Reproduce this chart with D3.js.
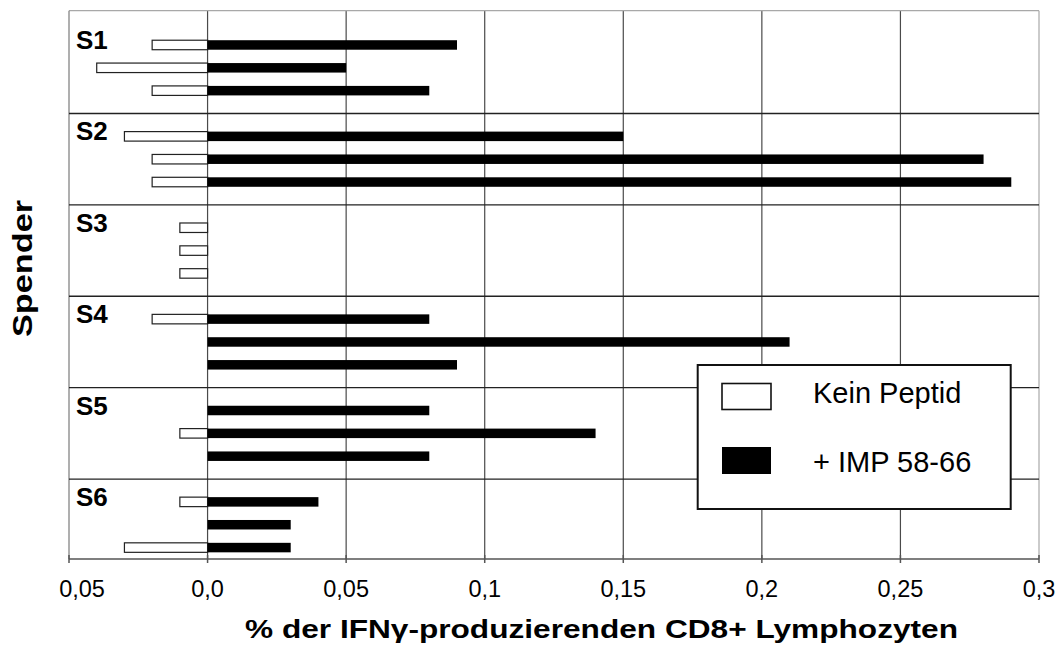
<!DOCTYPE html>
<html>
<head>
<meta charset="utf-8">
<script src="https://cdn.jsdelivr.net/npm/d3@7"></script>
<style>
  html, body { margin: 0; padding: 0; background: #fff; }
  svg { display: block; }
  text { font-family: "Liberation Sans", Arial, sans-serif; fill: #000; }
</style>
</head>
<body>
<svg id="chart" width="1061" height="653"></svg>
<script>
// ---- data ----
const donors = ["S1", "S2", "S3", "S4", "S5", "S6"];
const seriesNames = ["Kein Peptid", "+ IMP 58-66"];
// three measurements per donor; "Kein Peptid" is drawn to the left of zero
const keinPeptid = [
  [0.02, 0.04, 0.02],
  [0.03, 0.02, 0.02],
  [0.01, 0.01, 0.01],
  [0.02, 0.00, 0.00],
  [0.00, 0.01, 0.00],
  [0.01, 0.00, 0.03]
];
const imp5866 = [
  [0.09, 0.05, 0.08],
  [0.15, 0.28, 0.29],
  [0.00, 0.00, 0.00],
  [0.08, 0.21, 0.09],
  [0.08, 0.14, 0.08],
  [0.04, 0.03, 0.03]
];
const xTicks = [-0.05, 0, 0.05, 0.1, 0.15, 0.2, 0.25, 0.3];
const xTickLabels = ["0,05", "0,0", "0,05", "0,1", "0,15", "0,2", "0,25", "0,3"];
const xTitle = "% der IFNγ-produzierenden CD8+ Lymphozyten";
const yTitle = "Spender";

// ---- layout ----
const svg = d3.select("#chart");
const L = 69, R = 1039, T = 10.7, B = 559;
const x = d3.scaleLinear().domain([-0.05, 0.3]).range([L, R]);
const slotsPerGroup = 4; // one empty slot + three bars
const y = d3.scaleLinear().domain([0, donors.length * slotsPerGroup]).range([T, B]);
const barH = 9.5;

// plot background
svg.append("rect").attr("x", L).attr("y", T).attr("width", R - L).attr("height", B - T).attr("fill", "#fff");

// vertical gridlines
svg.append("g").selectAll("line").data(xTicks.filter(d => d > -0.05 && d < 0.3)).join("line")
  .attr("x1", d => x(d)).attr("x2", d => x(d)).attr("y1", T).attr("y2", B)
  .attr("stroke", "#4a4a4a").attr("stroke-width", 1.2);

// borders
svg.append("line").attr("x1", L).attr("x2", R).attr("y1", T).attr("y2", T).attr("stroke", "#a8a8a8").attr("stroke-width", 1.2);
svg.append("line").attr("x1", R).attr("x2", R).attr("y1", T).attr("y2", B).attr("stroke", "#a8a8a8").attr("stroke-width", 1.2);
svg.append("line").attr("x1", L).attr("x2", L).attr("y1", T).attr("y2", B).attr("stroke", "#7a7a7a").attr("stroke-width", 1.2);

// group separators (middle of the empty slot between groups)
const seps = d3.range(1, donors.length).map(g => g * slotsPerGroup + 0.5);
svg.append("g").selectAll("line").data(seps).join("line")
  .attr("x1", L).attr("x2", R).attr("y1", d => y(d)).attr("y2", d => y(d))
  .attr("stroke", "#222").attr("stroke-width", 1.3);

// bars
const rows = [];
donors.forEach((dn, g) => {
  for (let k = 0; k < 3; k++) {
    rows.push({ donor: dn, slot: g * slotsPerGroup + 1 + k, kein: keinPeptid[g][k], imp: imp5866[g][k] });
  }
});
const barG = svg.append("g");
barG.selectAll("rect.kein").data(rows.filter(r => r.kein > 0)).join("rect")
  .attr("class", "kein")
  .attr("x", d => x(-d.kein)).attr("width", d => x(0) - x(-d.kein))
  .attr("y", d => y(d.slot + 0.5) - barH / 2).attr("height", barH)
  .attr("fill", "#fff").attr("stroke", "#222").attr("stroke-width", 1.2);
barG.selectAll("rect.imp").data(rows.filter(r => r.imp > 0)).join("rect")
  .attr("class", "imp")
  .attr("x", x(0)).attr("width", d => x(d.imp) - x(0))
  .attr("y", d => y(d.slot + 0.5) - barH / 2).attr("height", barH)
  .attr("fill", "#000");

// donor labels
svg.append("g").selectAll("text").data(donors).join("text")
  .attr("x", 76).attr("y", (d, i) => y(i * slotsPerGroup + 1.5) + 4)
  .attr("font-size", 26).attr("font-weight", "bold").text(d => d);

// x axis
const axis = svg.append("g");
axis.append("line").attr("x1", L).attr("x2", R).attr("y1", B).attr("y2", B).attr("stroke", "#555").attr("stroke-width", 1.5);
axis.selectAll("line.tick").data(xTicks).join("line").attr("class", "tick")
  .attr("x1", d => x(d)).attr("x2", d => x(d)).attr("y1", B - 4).attr("y2", B + 4)
  .attr("stroke", "#555").attr("stroke-width", 1.5);
axis.selectAll("text").data(xTicks).join("text")
  .attr("x", (d, i) => x(d) + (i === 0 ? 13 : 0)).attr("y", 597)
  .attr("text-anchor", "middle").attr("font-size", 23.5)
  .text((d, i) => xTickLabels[i]);

// axis titles
svg.append("text").attr("x", 245).attr("y", 638)
  .attr("font-size", 26).attr("font-weight", "bold")
  .attr("textLength", 713).attr("lengthAdjust", "spacingAndGlyphs")
  .text(xTitle);
svg.append("text").attr("transform", "translate(32,337) rotate(-90)")
  .attr("font-size", 27).attr("font-weight", "bold")
  .attr("textLength", 137).attr("lengthAdjust", "spacingAndGlyphs")
  .text(yTitle);

// legend
const lg = svg.append("g");
lg.append("rect").attr("x", 697.7).attr("y", 365).attr("width", 313).attr("height", 144)
  .attr("fill", "#fff").attr("stroke", "#111").attr("stroke-width", 2);
lg.append("rect").attr("x", 722).attr("y", 383.5).attr("width", 49).attr("height", 26)
  .attr("fill", "#fff").attr("stroke", "#111").attr("stroke-width", 1.6);
lg.append("rect").attr("x", 722).attr("y", 447).attr("width", 49).attr("height", 27)
  .attr("fill", "#000");
lg.selectAll("text").data(seriesNames).join("text")
  .attr("x", 813).attr("y", (d, i) => i === 0 ? 403 : 471.5)
  .attr("font-size", 29).text(d => d);
</script>
</body>
</html>
